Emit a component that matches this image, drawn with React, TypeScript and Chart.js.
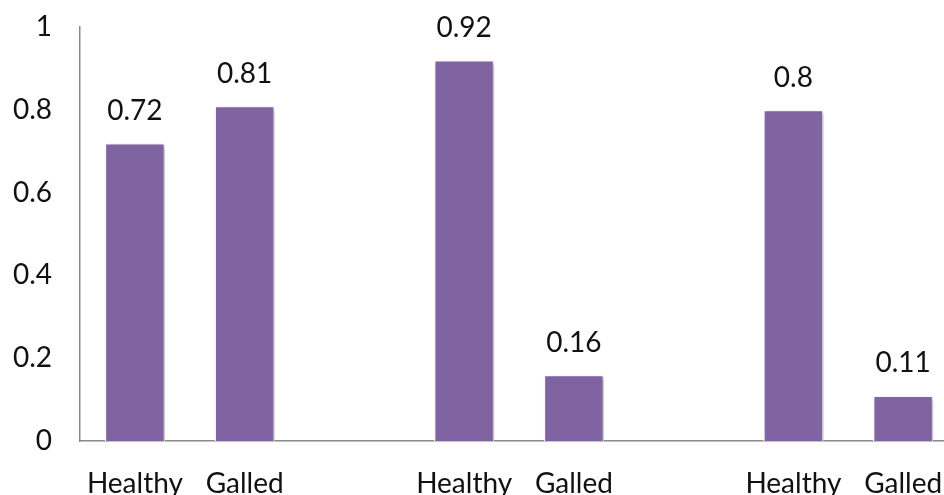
import React, { useEffect, useRef } from "react";
import { Chart, registerables } from "chart.js";

Chart.register(...registerables);

const categories = ["Healthy", "Galled", "", "Healthy", "Galled", "", "Healthy", "Galled"];
const values: (number | null)[] = [0.72, 0.81, null, 0.92, 0.16, null, 0.8, 0.11];
const yTicks = [0, 0.2, 0.4, 0.6, 0.8, 1];

const FONT = "Lato, 'Open Sans', sans-serif";

const shadowPlugin = {
  id: "barShadow",
  beforeDatasetDraw(chart: any) {
    const ctx = chart.ctx;
    ctx.save();
    ctx.shadowColor = "rgba(0,0,0,0.28)";
    ctx.shadowBlur = 4;
    ctx.shadowOffsetX = 2;
    ctx.shadowOffsetY = 2;
  },
  afterDatasetDraw(chart: any) {
    chart.ctx.restore();
  },
};

const valueLabelPlugin = {
  id: "valueLabels",
  afterDatasetsDraw(chart: any) {
    const ctx = chart.ctx;
    const meta = chart.getDatasetMeta(0);
    ctx.save();
    ctx.font = `28px ${FONT}`;
    ctx.fillStyle = "#111";
    ctx.textAlign = "center";
    ctx.textBaseline = "alphabetic";
    meta.data.forEach((bar: any, i: number) => {
      const v = values[i];
      if (v === null || v === undefined) return;
      ctx.fillText(String(v), bar.x, bar.y - 23);
    });
    ctx.restore();
  },
};

export default function App() {
  const ref = useRef<HTMLCanvasElement | null>(null);
  useEffect(() => {
    document.body.style.margin = "0";
    document.body.style.overflow = "hidden";
    document.documentElement.style.overflow = "hidden";
    if (!ref.current) return;
    const chart = new Chart(ref.current, {
      type: "bar",
      data: {
        labels: categories,
        datasets: [
          {
            data: values,
            backgroundColor: "#8064A2",
            borderColor: "#ffffff",
            borderWidth: 1.5,
            categoryPercentage: 1,
            barPercentage: 0.55,
          },
        ],
      },
      options: {
        animation: false,
        responsive: false,
        layout: { padding: { top: 27, left: 0, right: 2, bottom: 0 } },
        plugins: { legend: { display: false }, tooltip: { enabled: false } },
        scales: {
          x: {
            grid: { display: false, drawTicks: true, tickLength: 26 },
            border: { display: true, color: "#8a8a8a", width: 1.5 },
            ticks: {
              color: "#111",
              font: { family: FONT, size: 28 },
              padding: 0,
              maxRotation: 0,
              autoSkip: false,
            },
            afterFit(scale: any) {
              scale.height = 54;
            },
          },
          y: {
            min: 0,
            max: 1,
            afterBuildTicks(scale: any) {
              scale.ticks = yTicks.map((v) => ({ value: v }));
            },
            grid: { display: false, drawTicks: true, tickLength: 28 },
            border: { display: true, color: "#8a8a8a", width: 1.5 },
            ticks: {
              color: "#111",
              font: { family: FONT, size: 28 },
              padding: 0,
              callback: (v: any) => String(Math.round(Number(v) * 10) / 10),
            },
            afterFit(scale: any) {
              scale.width = 80;
            },
          },
        },
      },
      plugins: [shadowPlugin, valueLabelPlugin],
    });
    return () => chart.destroy();
  }, []);
  return (
    <div style={{ width: 944, height: 495, overflow: "hidden", position: "relative" }}>
      <canvas ref={ref} width={960} height={495} style={{ display: "block" }} />
    </div>
  );
}
